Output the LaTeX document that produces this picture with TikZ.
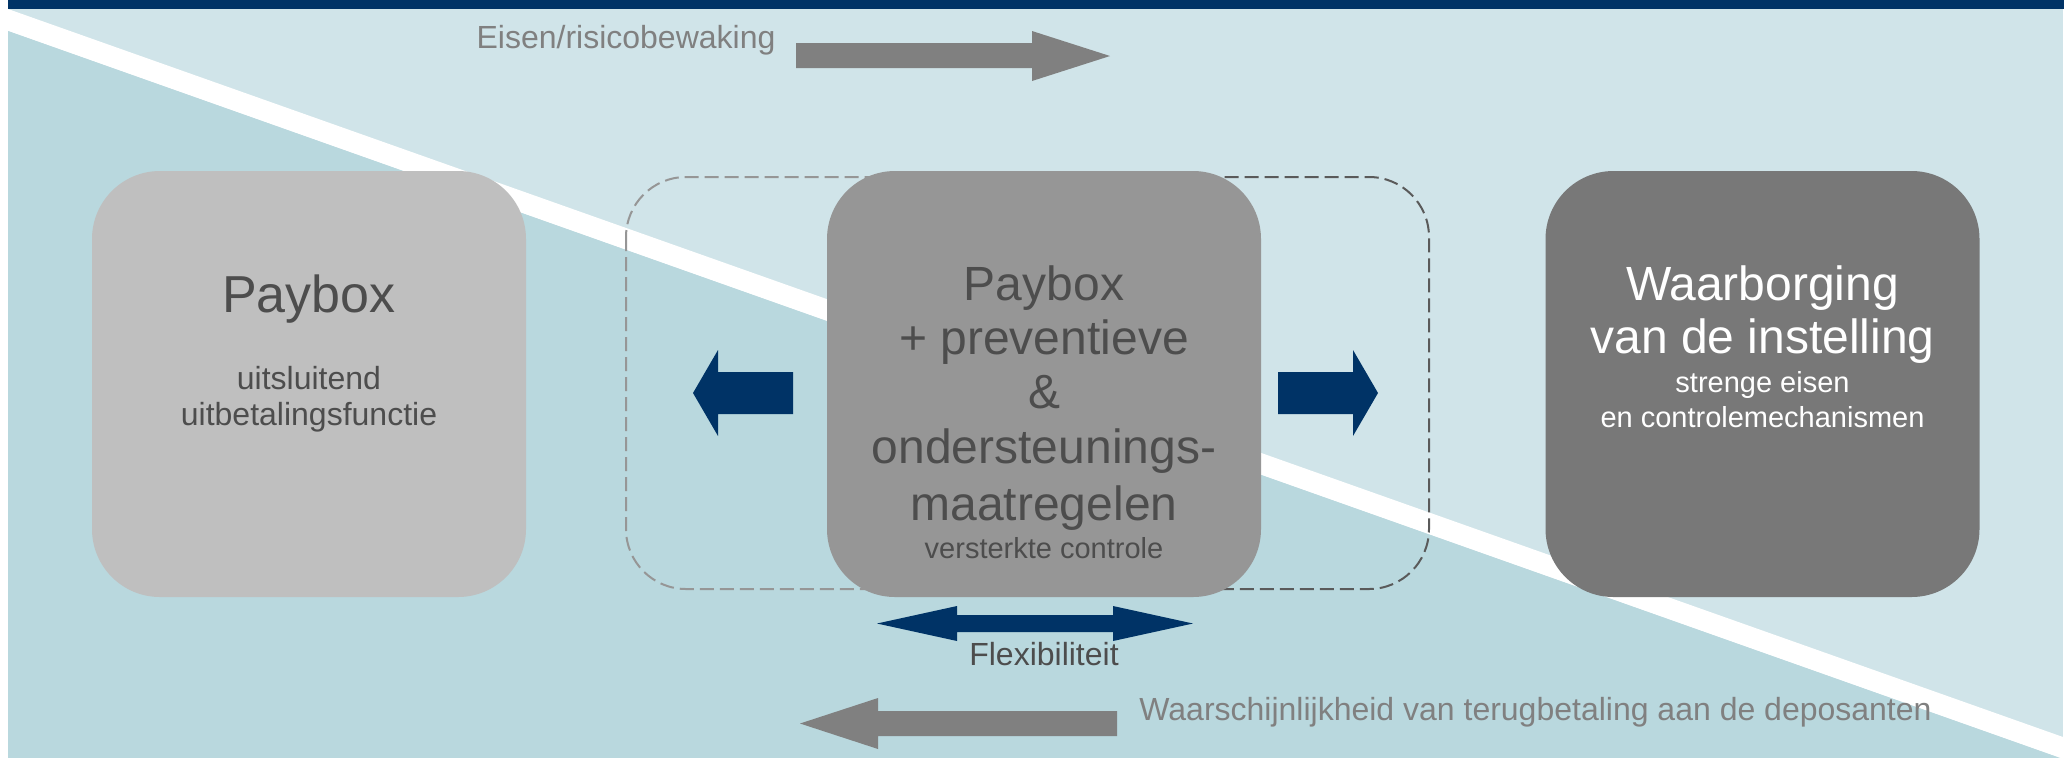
\documentclass[tikz,border=0pt]{standalone}
\usepackage{fontspec}
\setmainfont{Liberation Sans}
\definecolor{navy}{RGB}{0,51,102}
\definecolor{bglight}{RGB}{208,228,233}
\definecolor{bgteal}{RGB}{185,216,222}
\definecolor{boxA}{RGB}{191,191,191}
\definecolor{boxB}{RGB}{150,150,150}
\definecolor{boxC}{RGB}{120,120,120}
\definecolor{txtdark}{RGB}{77,77,77}
\definecolor{txtgray}{RGB}{128,128,128}
\definecolor{arrgray}{RGB}{128,128,128}
\definecolor{dashlight}{RGB}{150,150,150}
\definecolor{dashdark}{RGB}{90,90,90}
\begin{document}
\begin{tikzpicture}[x=0.5pt,y=-0.5pt,
  panel/.style={draw=none,inner sep=0pt,rounded corners=34pt,minimum width=217pt,minimum height=213pt},
  bigtxt/.style={anchor=base,inner sep=0pt,font=\fontsize{24pt}{27pt}\selectfont},
  smalltxt/.style={anchor=base,inner sep=0pt,font=\fontsize{14.5pt}{17.5pt}\selectfont},
  labeltxt/.style={anchor=base,inner sep=0pt,font=\fontsize{16pt}{18pt}\selectfont},
  dashframe/.style={line width=1pt,dash pattern=on 7pt off 3pt}]
\useasboundingbox (0,0) rectangle (2072,757);
% background
\fill[bglight] (8,9) rectangle (2063,757);
\fill[navy] (8,0) rectangle (2064,9);
\begin{scope}
  \clip (8,9) rectangle (2063,757);
  \fill[white] (8,9) -- (2063,737) -- (2063,759) -- (8,31) -- cycle;
  \fill[bgteal] (8,31) -- (2063,759) -- (2063,800) -- (8,800) -- cycle;
\end{scope}
% dashed frame
\begin{scope}
  \clip (600,150) rectangle (1044,620);
  \draw[dashframe,dashlight,rounded corners=30pt] (626,177) rectangle (1429,589);
\end{scope}
\begin{scope}
  \clip (1044,150) rectangle (1460,620);
  \draw[dashframe,dashdark,rounded corners=30pt] (626,177) rectangle (1429,589);
\end{scope}
% panels
\node[panel,fill=boxA] (pA) at (309,384) {};
\node[panel,fill=boxB] (pB) at (1044,384) {};
\node[panel,fill=boxC] (pC) at (1762.5,384) {};
% left panel text
\node[anchor=base,inner sep=0pt,font=\fontsize{26pt}{30pt}\selectfont,text=txtdark] (a1) at (309,312) {Paybox};
\node[labeltxt,text=txtdark] (a2) at (309,389) {uitsluitend};
\node[labeltxt,text=txtdark] (a3) at (309,425) {uitbetalingsfunctie};
% middle panel text
\node[bigtxt,text=txtdark] (b1) at (1044,300) {Paybox};
\node[bigtxt,text=txtdark] (b2) at (1044,354) {+ preventieve};
\node[bigtxt,text=txtdark] (b3) at (1044,408) {\&};
\node[bigtxt,text=txtdark] (b4) at (1044,463) {ondersteunings-};
\node[bigtxt,text=txtdark] (b5) at (1044,520) {maatregelen};
\node[smalltxt,text=txtdark] (b6) at (1044,558) {versterkte controle};
% right panel text
\node[bigtxt,text=white] (c1) at (1762.5,300) {Waarborging};
\node[bigtxt,text=white] (c2) at (1762.5,353) {van de instelling};
\node[smalltxt,text=white] (c3) at (1762.5,392) {strenge eisen};
\node[smalltxt,text=white] (c4) at (1762.5,427) {en controlemechanismen};
% navy arrows
\fill[navy] (693,393) -- (718,350) -- (718,372) -- (793,372) -- (793,414) -- (718,414) -- (718,436) -- cycle;
\fill[navy] (1378,393) -- (1353,350) -- (1353,372) -- (1278,372) -- (1278,414) -- (1353,414) -- (1353,436) -- cycle;
\fill[navy] (877,623.5) -- (957,606) -- (957,615) -- (1113,615) -- (1113,606) -- (1193,623.5) -- (1113,641) -- (1113,632) -- (957,632) -- (957,641) -- cycle;
\node[labeltxt,text=txtdark] (flex) at (1044,665) {Flexibiliteit};
% gray arrows
\fill[arrgray] (796,43) -- (1032,43) -- (1032,31) -- (1110,56) -- (1032,81) -- (1032,68) -- (796,68) -- cycle;
\node[labeltxt,text=txtgray] (eisen) at (626,48) {Eisen/risicobewaking};
\fill[arrgray] (800,723.5) -- (878,698) -- (878,711) -- (1117,711) -- (1117,736) -- (878,736) -- (878,749) -- cycle;
\node[labeltxt,text=txtgray,anchor=base west] (waar) at (1139,720) {Waarschijnlijkheid van terugbetaling aan de deposanten};
\end{tikzpicture}
\end{document}
